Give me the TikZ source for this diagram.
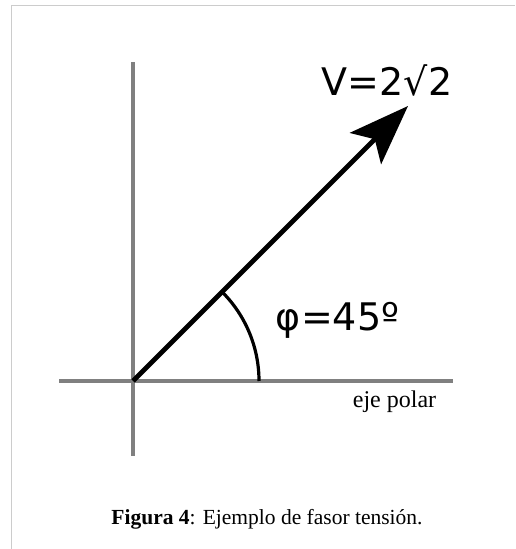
\documentclass[tikz,border=0pt]{standalone}
\usepackage{fontspec}
\setmainfont{Liberation Serif}
\newfontfamily\labelfont{DejaVu Sans}
\usetikzlibrary{arrows.meta}
\definecolor{axisgray}{HTML}{808080}
\definecolor{framegray}{HTML}{CCCCCC}
\tikzset{
  axis/.style={axisgray, line width=3.6pt},
  phasor/.style={black, line width=4.8pt, -{Stealth[length=60pt,width=44pt,inset=13pt]}},
  biglabel/.style={font=\labelfont\fontsize{38}{40}\selectfont, inner sep=0pt}
}
\begin{document}
\begin{tikzpicture}[x=1pt,y=1pt]
\useasboundingbox (0,0) rectangle (515,549);
\def\xO{133};
\def\yO{168};
\def\r{126};
\coordinate (O) at (\xO,\yO);
\coordinate (tip) at (408,443);
% frame
\coordinate (fbl) at (11,0);
\coordinate (ftl) at (11,543.7);
\coordinate (ftr) at (515,543.7);
\draw[framegray, line width=1pt] (fbl) -- (ftl) -- (ftr);
% axes
\coordinate (ytop) at (\xO,487);
\coordinate (ybot) at (\xO,93);
\coordinate (xleft) at (59,\yO);
\coordinate (xright) at (453,\yO);
\draw[axis] (ybot) -- (ytop);
\draw[axis] (xleft) -- (xright);
% phasor and angle
\draw[phasor] (O) -- (tip);
\coordinate (arcstart) at (\xO+\r,\yO);
\draw[line width=3.2pt] (arcstart) arc (0:45:\r pt);
\node[biglabel] (volt) at (387,468.5) {V=2√2};
\node[biglabel, anchor=base] (angle) at (337.5,218) {φ=45º};
\node[font=\fontsize{24}{26}\selectfont, anchor=base, inner sep=0pt] (polar) at (394.5,141.5) {eje polar};
\node[font=\fontsize{21.5}{24}\selectfont, anchor=base, inner sep=0pt] (caption) at (267,24) {\textbf{Figura 4}: Ejemplo de fasor tensión.};
\end{tikzpicture}
\end{document}
